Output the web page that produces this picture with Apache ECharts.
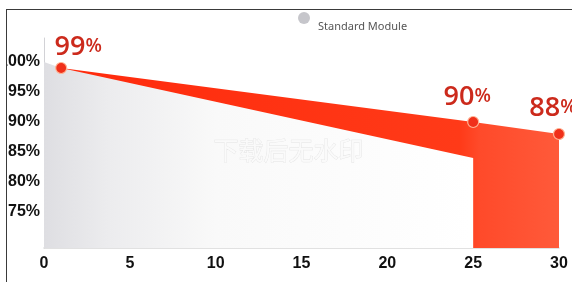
<!DOCTYPE html>
<html><head><meta charset="utf-8">
<script src="https://cdn.jsdelivr.net/npm/echarts@6/dist/echarts.min.js"></script>
<style>
html,body{margin:0;padding:0;background:#fff;width:572px;height:282px;overflow:hidden;position:relative}
#chart{position:absolute;left:7px;top:0;width:565px;height:282px}
.fr{position:absolute;background:#3a3a3a;z-index:5}
</style></head><body>
<div id="chart"></div>
<div class="fr" style="left:6px;top:9px;width:566px;height:1px"></div>
<div class="fr" style="left:6px;top:9px;width:1px;height:273px"></div>
<script>
// ---- data ----
const standardYears = [0, 1, 25];
const standardValues = [100, 99, 84];
const ourYears = [1, 25, 30];
const ourValues = [99, 90, 88];
const yTickLabels = [75, 80, 85, 90, 95, 100];
const xTickLabels = [0, 5, 10, 15, 20, 25, 30];
const legendName = 'Standard Module';
const watermarkText = '下载后无水印';

// ---- presentation ----
const labelOffsets = [[17, -21], [-6, -25], [-6, -26]];
const standardData = standardYears.map((x, i) => [x, standardValues[i]]);
const ourData = ourYears.map((x, i) => [x, ourValues[i]]);

const chart = echarts.init(document.getElementById('chart'), null, {renderer: 'canvas'});
chart.setOption({
  animation: false,
  backgroundColor: 'transparent',
  grid: {left: 37, right: 13, top: 38, bottom: 34, containLabel: false, outerBoundsMode: 'none'},
  legend: {
    data: [legendName], left: 291, top: 12, padding: 0, icon: 'circle',
    itemWidth: 12, itemHeight: 12, itemGap: 0,
    formatter: name => '{t|' + name + '}',
    textStyle: {
      fontFamily: 'Noto Sans', fontSize: 11, color: '#555',
      rich: {t: {fontFamily: 'Noto Sans', fontSize: 11, color: '#555', lineHeight: 29, verticalAlign: 'bottom', padding: [0, 0, 0, 3]}}
    }
  },
  xAxis: {
    type: 'value', min: xTickLabels[0], max: xTickLabels[xTickLabels.length - 1], interval: 5,
    axisLine: {show: true, lineStyle: {color: '#d8d8d8', width: 1.5}},
    axisTick: {show: false}, splitLine: {show: false},
    axisLabel: {margin: 8, color: '#111', fontFamily: 'Liberation Sans', fontWeight: 'bold', fontSize: 16}
  },
  yAxis: {
    type: 'value', min: 69, max: 104, interval: 1,
    axisLine: {show: true, lineStyle: {color: '#d2d2d6', width: 1}},
    axisTick: {show: false}, splitLine: {show: false},
    axisLabel: {
      margin: 4, color: '#111', fontFamily: 'Liberation Sans', fontWeight: 'bold', fontSize: 16,
      formatter: v => yTickLabels.indexOf(v) >= 0 ? v + '%' : ''
    }
  },
  graphic: [{
    type: 'text', left: 206, top: 138, z: 10, silent: true,
    style: {text: watermarkText, font: '25px "Noto Sans CJK SC"', fill: '#fafafa', stroke: '#e4e4e4', lineWidth: 0.8}
  }],
  series: [
    {
      name: 'Our Module', type: 'line', z: 1, data: ourData, symbol: 'none',
      lineStyle: {width: 0},
      areaStyle: {origin: 'start', opacity: 1, color: new echarts.graphic.LinearGradient(0, 0, 1, 0, [
        {offset: 0, color: '#ff2a0c'}, {offset: 0.8, color: '#ff3a18'},
        {offset: 0.84, color: '#ff4a2a'}, {offset: 1, color: '#ff5a3a'}])}
    },
    {
      name: legendName, type: 'line', z: 2, data: standardData, symbol: 'none',
      color: '#c6c6cb',
      lineStyle: {width: 0},
      areaStyle: {origin: 'start', opacity: 1, color: new echarts.graphic.LinearGradient(0, 0, 1, 0, [
        {offset: 0, color: '#dedee2'}, {offset: 0.15, color: '#ececee'},
        {offset: 0.4, color: '#f9f9f9'}, {offset: 1, color: '#ffffff'}])}
    },
    {
      name: 'points', type: 'scatter', z: 3, symbol: 'circle', symbolSize: 11,
      itemStyle: {color: '#f0301a', borderColor: '#ffb595', borderWidth: 1.2, opacity: 1},
      data: ourData.map((d, i) => ({value: d, label: {offset: labelOffsets[i]}})),
      label: {
        show: true, position: 'inside',
        formatter: p => '{n|' + p.value[1] + '}{p|%}',
        rich: {
          n: {fontFamily: 'Open Sans', fontWeight: 600, fontSize: 27, color: '#cc2a1c'},
          p: {fontFamily: 'Open Sans', fontWeight: 600, fontSize: 19, color: '#cc2a1c'}
        }
      }
    }
  ]
});
</script></body></html>
